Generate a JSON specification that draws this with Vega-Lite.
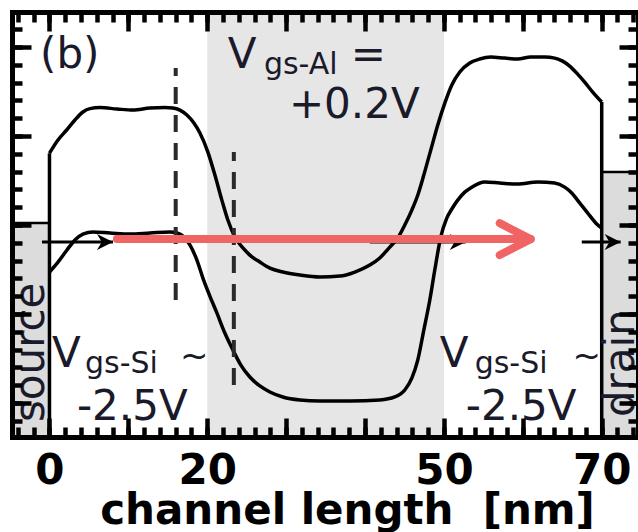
{
  "$schema": "https://vega.github.io/schema/vega-lite/v6.json",
  "width": 626,
  "height": 425,
  "autosize": {"type": "none"},
  "padding": {"left": 12, "top": 12, "right": 0, "bottom": 95},
  "background": "white",
  "config": {
    "view": {"stroke": null},
    "text": {"font": "DejaVu Sans"}
  },
  "datasets": {
    "gate": [{"x": 20, "x2": 50}],
    "contacts": [
      {"name": "source", "x": -4.75, "x2": 0, "E": -1.91, "E2": 10.11},
      {"name": "drain", "x": 70, "x2": 74.6, "E": -1.91, "E2": 12.98}
    ],
    "bands": [
      {"band": "Ec", "x": 0.0, "E": 14.04}, {"band": "Ec", "x": 1.08, "E": 14.78}, {"band": "Ec", "x": 2.18, "E": 15.34},
      {"band": "Ec", "x": 3.23, "E": 15.9}, {"band": "Ec", "x": 4.24, "E": 16.35}, {"band": "Ec", "x": 5.13, "E": 16.54},
      {"band": "Ec", "x": 6.4, "E": 16.6}, {"band": "Ec", "x": 8.55, "E": 16.52}, {"band": "Ec", "x": 10.58, "E": 16.46},
      {"band": "Ec", "x": 12.73, "E": 16.57}, {"band": "Ec", "x": 14.63, "E": 16.6}, {"band": "Ec", "x": 15.64, "E": 16.57},
      {"band": "Ec", "x": 16.53, "E": 16.46}, {"band": "Ec", "x": 17.42, "E": 16.18}, {"band": "Ec", "x": 18.31, "E": 15.73},
      {"band": "Ec", "x": 19.07, "E": 15.17}, {"band": "Ec", "x": 20.08, "E": 14.1}, {"band": "Ec", "x": 20.97, "E": 12.81},
      {"band": "Ec", "x": 21.85, "E": 11.4}, {"band": "Ec", "x": 22.61, "E": 10.28}, {"band": "Ec", "x": 23.5, "E": 9.33},
      {"band": "Ec", "x": 24.52, "E": 8.71}, {"band": "Ec", "x": 25.4, "E": 8.31}, {"band": "Ec", "x": 26.67, "E": 7.92},
      {"band": "Ec", "x": 27.94, "E": 7.58}, {"band": "Ec", "x": 29.58, "E": 7.36}, {"band": "Ec", "x": 31.74, "E": 7.19},
      {"band": "Ec", "x": 34.27, "E": 7.08}, {"band": "Ec", "x": 36.81, "E": 7.13}, {"band": "Ec", "x": 38.71, "E": 7.36},
      {"band": "Ec", "x": 40.61, "E": 7.75}, {"band": "Ec", "x": 41.87, "E": 8.15}, {"band": "Ec", "x": 43.14, "E": 8.76},
      {"band": "Ec", "x": 44.15, "E": 9.27}, {"band": "Ec", "x": 45.04, "E": 10.0}, {"band": "Ec", "x": 45.93, "E": 10.84},
      {"band": "Ec", "x": 46.69, "E": 11.69}, {"band": "Ec", "x": 47.45, "E": 12.81}, {"band": "Ec", "x": 48.33, "E": 14.21},
      {"band": "Ec", "x": 49.22, "E": 15.62}, {"band": "Ec", "x": 50.11, "E": 16.85}, {"band": "Ec", "x": 51.0, "E": 17.87},
      {"band": "Ec", "x": 52.01, "E": 18.6}, {"band": "Ec", "x": 53.28, "E": 19.1}, {"band": "Ec", "x": 54.54, "E": 19.33},
      {"band": "Ec", "x": 55.94, "E": 19.44}, {"band": "Ec", "x": 57.71, "E": 19.38}, {"band": "Ec", "x": 59.36, "E": 19.33},
      {"band": "Ec", "x": 61.0, "E": 19.44}, {"band": "Ec", "x": 62.78, "E": 19.44}, {"band": "Ec", "x": 64.04, "E": 19.38},
      {"band": "Ec", "x": 65.05, "E": 19.21}, {"band": "Ec", "x": 65.94, "E": 18.93}, {"band": "Ec", "x": 66.95, "E": 18.48},
      {"band": "Ec", "x": 67.84, "E": 18.03}, {"band": "Ec", "x": 68.86, "E": 17.47}, {"band": "Ec", "x": 70.0, "E": 16.91},
      {"band": "Ev", "x": 0.0, "E": 7.36}, {"band": "Ev", "x": 1.08, "E": 7.92}, {"band": "Ev", "x": 2.22, "E": 8.6},
      {"band": "Ev", "x": 3.23, "E": 9.16}, {"band": "Ev", "x": 4.24, "E": 9.49}, {"band": "Ev", "x": 5.51, "E": 9.61},
      {"band": "Ev", "x": 7.67, "E": 9.55}, {"band": "Ev", "x": 10.2, "E": 9.49}, {"band": "Ev", "x": 12.73, "E": 9.55},
      {"band": "Ev", "x": 15.27, "E": 9.61}, {"band": "Ev", "x": 16.15, "E": 9.55}, {"band": "Ev", "x": 16.92, "E": 9.38},
      {"band": "Ev", "x": 17.8, "E": 8.88}, {"band": "Ev", "x": 18.69, "E": 8.03}, {"band": "Ev", "x": 19.45, "E": 7.02},
      {"band": "Ev", "x": 20.33, "E": 6.01}, {"band": "Ev", "x": 21.22, "E": 5.06}, {"band": "Ev", "x": 22.23, "E": 3.93},
      {"band": "Ev", "x": 23.25, "E": 2.98}, {"band": "Ev", "x": 24.26, "E": 2.13}, {"band": "Ev", "x": 25.4, "E": 1.46},
      {"band": "Ev", "x": 26.67, "E": 0.96}, {"band": "Ev", "x": 27.94, "E": 0.62}, {"band": "Ev", "x": 29.58, "E": 0.34},
      {"band": "Ev", "x": 31.74, "E": 0.17}, {"band": "Ev", "x": 34.27, "E": 0.11}, {"band": "Ev", "x": 38.07, "E": 0.11},
      {"band": "Ev", "x": 41.87, "E": 0.17}, {"band": "Ev", "x": 43.77, "E": 0.34}, {"band": "Ev", "x": 45.04, "E": 0.73},
      {"band": "Ev", "x": 45.93, "E": 1.4}, {"band": "Ev", "x": 46.69, "E": 2.42}, {"band": "Ev", "x": 47.45, "E": 4.1},
      {"band": "Ev", "x": 48.21, "E": 5.79}, {"band": "Ev", "x": 48.84, "E": 7.47}, {"band": "Ev", "x": 49.6, "E": 9.33},
      {"band": "Ev", "x": 50.36, "E": 10.39}, {"band": "Ev", "x": 51.0, "E": 10.9}, {"band": "Ev", "x": 51.75, "E": 11.4},
      {"band": "Ev", "x": 52.64, "E": 11.85}, {"band": "Ev", "x": 53.53, "E": 12.13}, {"band": "Ev", "x": 55.18, "E": 12.42},
      {"band": "Ev", "x": 57.08, "E": 12.36}, {"band": "Ev", "x": 59.36, "E": 12.3}, {"band": "Ev", "x": 61.89, "E": 12.42},
      {"band": "Ev", "x": 64.04, "E": 12.36}, {"band": "Ev", "x": 65.31, "E": 12.13}, {"band": "Ev", "x": 66.2, "E": 11.8},
      {"band": "Ev", "x": 67.21, "E": 11.24}, {"band": "Ev", "x": 68.23, "E": 10.67}, {"band": "Ev", "x": 69.37, "E": 10.06},
      {"band": "Ev", "x": 70.0, "E": 9.83}
    ],
    "dashes": [
      {"x": 16.0, "E": 5.79, "E2": 18.82},
      {"x": 23.37, "E": 1.01, "E2": 14.1}
    ],
    "walls": [
      {"x": 0, "E": -1.91, "E2": 14.04},
      {"x": 70, "E": -1.91, "E2": 16.91}
    ],
    "flow": [
      {"x": -0.95, "x2": 8.05, "E": 9.04},
      {"x": 40.6, "x2": 52.77, "E": 9.04},
      {"x": 67.47, "x2": 72.4, "E": 9.04}
    ],
    "path": [{"x": 8.55, "x2": 61.0, "E": 9.21}],
    "bigText": [
      {"x": -1.2, "E": 18.82, "t": "(b)"},
      {"x": 22.61, "E": 18.82, "t": "V"},
      {"x": 38.2, "E": 18.82, "t": "="},
      {"x": 30.35, "E": 16.01, "t": "+0.2V"},
      {"x": 0.32, "E": 2.02, "t": "V"},
      {"x": 3.48, "E": -0.955, "t": "-2.5V"},
      {"x": 49.48, "E": 2.02, "t": "V"},
      {"x": 52.77, "E": -0.955, "t": "-2.5V"}
    ],
    "subText": [
      {"x": 27.18, "E": 18.48, "t": "gs-Al"},
      {"x": 4.5, "E": 1.69, "t": "gs-Si"},
      {"x": 53.9, "E": 1.69, "t": "gs-Si"}
    ],
    "tilde": [
      {"x": 16.53, "E": 2.02, "t": "~"},
      {"x": 66.3, "E": 2.02, "t": "~"}
    ],
    "sideText": [
      {"x": -0.7, "E": -1.07, "t": "source"},
      {"x": 74.1, "E": -0.79, "t": "drain"}
    ]
  },
  "layer": [
    {
      "data": {"name": "gate"},
      "mark": {"type": "rect", "color": "#e6e6e6"},
      "encoding": {
        "x": {"field": "x", "type": "quantitative", "scale": {"domain": [-4.75, 74.6], "nice": false, "zero": false}, "axis": null},
        "x2": {"field": "x2"}
      }
    },
    {
      "data": {"name": "contacts"},
      "mark": {"type": "rect", "fill": "#dcdcdc", "stroke": "black", "strokeWidth": 2.5},
      "encoding": {
        "x": {
          "field": "x", "type": "quantitative",
          "scale": {"domain": [-4.75, 74.6], "nice": false, "zero": false},
          "axis": {
            "orient": "bottom", "zindex": 1, "grid": false,
            "values": [-4, -2, 0, 2, 4, 6, 8, 10, 12, 14, 16, 18, 20, 22, 24, 26, 28, 30, 32, 34, 36, 38, 40, 42, 44, 46, 48, 50, 52, 54, 56, 58, 60, 62, 64, 66, 68, 70, 72, 74],
            "domain": true, "domainColor": "black", "domainWidth": 5, "domainCap": "square",
            "ticks": true, "tickSize": -10, "tickWidth": 4.5, "tickColor": "black", "tickCap": "butt",
            "labels": true,
            "labelExpr": "(datum.value === 0 || datum.value === 20 || datum.value === 50 || datum.value === 70) ? datum.label : ''",
            "labelFont": "DejaVu Sans", "labelFontWeight": "bold", "labelFontSize": 42, "labelColor": "black",
            "labelBaseline": "alphabetic", "labelPadding": 56, "labelFlush": false, "labelOverlap": false, "labelBound": false,
            "title": "channel length\u00a0 [nm]",
            "titleFont": "DejaVu Sans", "titleFontWeight": "bold", "titleFontSize": 42, "titleColor": "black",
            "titleX": 335, "titleY": 86, "titleAlign": "center", "titleBaseline": "alphabetic"
          }
        },
        "x2": {"field": "x2"},
        "y": {
          "field": "E", "type": "quantitative",
          "scale": {"domain": [-1.91, 21.97], "nice": false, "zero": false},
          "axis": {
            "orient": "left", "zindex": 1, "grid": false, "title": null, "labels": false,
            "values": [-1, 0, 1, 2, 3, 4, 5, 6, 7, 8, 9, 10, 11, 12, 13, 14, 15, 16, 17, 18, 19, 20, 21],
            "domain": true, "domainColor": "black", "domainWidth": 5, "domainCap": "square",
            "ticks": true, "tickSize": -10, "tickWidth": 4.5, "tickColor": "black", "tickCap": "butt"
          }
        },
        "y2": {"field": "E2"}
      }
    },
    {
      "data": {"name": "bands"},
      "mark": {"type": "line", "color": "black", "strokeWidth": 3.5, "interpolate": "monotone", "strokeJoin": "round"},
      "encoding": {
        "x": {
          "field": "x", "type": "quantitative",
          "scale": {"domain": [-4.75, 74.6], "nice": false, "zero": false},
          "axis": {
            "orient": "top", "zindex": 1, "grid": false, "title": null, "labels": false,
            "values": [-4, -2, 0, 2, 4, 6, 8, 10, 12, 14, 16, 18, 20, 22, 24, 26, 28, 30, 32, 34, 36, 38, 40, 42, 44, 46, 48, 50, 52, 54, 56, 58, 60, 62, 64, 66, 68, 70, 72, 74],
            "domain": true, "domainColor": "black", "domainWidth": 5, "domainCap": "square",
            "ticks": true, "tickSize": -10, "tickWidth": 4.5, "tickColor": "black", "tickCap": "butt"
          }
        },
        "y": {
          "field": "E", "type": "quantitative",
          "scale": {"domain": [-1.91, 21.97], "nice": false, "zero": false},
          "axis": {
            "orient": "right", "zindex": 1, "grid": false, "title": null, "labels": false,
            "values": [-1, 0, 1, 2, 3, 4, 5, 6, 7, 8, 9, 10, 11, 12, 13, 14, 15, 16, 17, 18, 19, 20, 21],
            "domain": true, "domainColor": "black", "domainWidth": 5, "domainCap": "square",
            "ticks": true, "tickSize": -10, "tickWidth": 4.5, "tickColor": "black", "tickCap": "butt"
          }
        },
        "detail": {"field": "band"}
      }
    },
    {
      "data": {"name": "dashes"},
      "mark": {"type": "rule", "color": "#2a2a2a", "strokeWidth": 4, "strokeDash": [17, 11]},
      "encoding": {
        "x": {
          "field": "x", "type": "quantitative",
          "scale": {"domain": [-4.75, 74.6], "nice": false, "zero": false},
          "axis": {
            "orient": "bottom", "zindex": 1, "grid": false, "title": null, "labels": false, "domain": false,
            "values": [0, 10, 20, 30, 40, 50, 60, 70],
            "ticks": true, "tickSize": -19, "tickWidth": 4.5, "tickColor": "black", "tickCap": "butt"
          }
        },
        "y": {
          "field": "E", "type": "quantitative",
          "scale": {"domain": [-1.91, 21.97], "nice": false, "zero": false},
          "axis": {
            "orient": "left", "zindex": 1, "grid": false, "title": null, "labels": false, "domain": false,
            "values": [0, 5, 10, 15, 20],
            "ticks": true, "tickSize": -19, "tickWidth": 4.5, "tickColor": "black", "tickCap": "butt"
          }
        },
        "y2": {"field": "E2"}
      }
    },
    {
      "data": {"name": "walls"},
      "mark": {"type": "rule", "color": "black", "strokeWidth": 3.5},
      "encoding": {
        "x": {
          "field": "x", "type": "quantitative",
          "scale": {"domain": [-4.75, 74.6], "nice": false, "zero": false},
          "axis": {
            "orient": "top", "zindex": 1, "grid": false, "title": null, "labels": false, "domain": false,
            "values": [0, 10, 20, 30, 40, 50, 60, 70],
            "ticks": true, "tickSize": -19, "tickWidth": 4.5, "tickColor": "black", "tickCap": "butt"
          }
        },
        "y": {
          "field": "E", "type": "quantitative",
          "scale": {"domain": [-1.91, 21.97], "nice": false, "zero": false},
          "axis": {
            "orient": "right", "zindex": 1, "grid": false, "title": null, "labels": false, "domain": false,
            "values": [0, 5, 10, 15, 20],
            "ticks": true, "tickSize": -19, "tickWidth": 4.5, "tickColor": "black", "tickCap": "butt"
          }
        },
        "y2": {"field": "E2"}
      }
    },
    {
      "data": {"name": "flow"},
      "mark": {"type": "rule", "color": "black", "strokeWidth": 3},
      "encoding": {
        "x": {"field": "x", "type": "quantitative", "axis": null},
        "x2": {"field": "x2"},
        "y": {"field": "E", "type": "quantitative", "axis": null}
      }
    },
    {
      "data": {"name": "flow"},
      "mark": {"type": "point", "shape": "M-2,-1L0,0L-2,1L-1.4,0Z", "size": 256, "filled": true, "color": "black", "opacity": 1},
      "encoding": {
        "x": {"field": "x2", "type": "quantitative", "axis": null},
        "y": {"field": "E", "type": "quantitative", "axis": null}
      }
    },
    {
      "data": {"name": "path"},
      "mark": {"type": "rule", "color": "#f06464", "strokeWidth": 8, "strokeCap": "round"},
      "encoding": {
        "x": {"field": "x", "type": "quantitative", "axis": null},
        "x2": {"field": "x2"},
        "y": {"field": "E", "type": "quantitative", "axis": null}
      }
    },
    {
      "data": {"name": "path"},
      "mark": {"type": "point", "shape": "M-2,-1.03L0,0L-2,1.03", "size": 961, "filled": false, "stroke": "#f06464", "strokeWidth": 8, "strokeCap": "round", "strokeJoin": "round", "opacity": 1},
      "encoding": {
        "x": {"field": "x2", "type": "quantitative", "axis": null},
        "y": {"field": "E", "type": "quantitative", "axis": null}
      }
    },
    {
      "data": {"name": "bigText"},
      "mark": {"type": "text", "font": "DejaVu Sans", "fontSize": 42, "align": "left", "baseline": "alphabetic", "color": "#1a1a2a"},
      "encoding": {
        "x": {"field": "x", "type": "quantitative", "axis": null},
        "y": {"field": "E", "type": "quantitative", "axis": null},
        "text": {"field": "t"}
      }
    },
    {
      "data": {"name": "subText"},
      "mark": {"type": "text", "font": "DejaVu Sans", "fontSize": 30, "align": "left", "baseline": "alphabetic", "color": "#1a1a2a"},
      "encoding": {
        "x": {"field": "x", "type": "quantitative", "axis": null},
        "y": {"field": "E", "type": "quantitative", "axis": null},
        "text": {"field": "t"}
      }
    },
    {
      "data": {"name": "tilde"},
      "mark": {"type": "text", "font": "DejaVu Sans", "fontSize": 34, "align": "left", "baseline": "alphabetic", "color": "#1a1a2a"},
      "encoding": {
        "x": {"field": "x", "type": "quantitative", "axis": null},
        "y": {"field": "E", "type": "quantitative", "axis": null},
        "text": {"field": "t"}
      }
    },
    {
      "data": {"name": "sideText"},
      "mark": {"type": "text", "font": "DejaVu Sans", "fontSize": 42, "angle": 270, "align": "left", "baseline": "alphabetic", "color": "#1a1a2a"},
      "encoding": {
        "x": {"field": "x", "type": "quantitative", "axis": null},
        "y": {"field": "E", "type": "quantitative", "axis": null},
        "text": {"field": "t"}
      }
    }
  ],
  "resolve": {"axis": {"x": "independent", "y": "independent"}}
}
